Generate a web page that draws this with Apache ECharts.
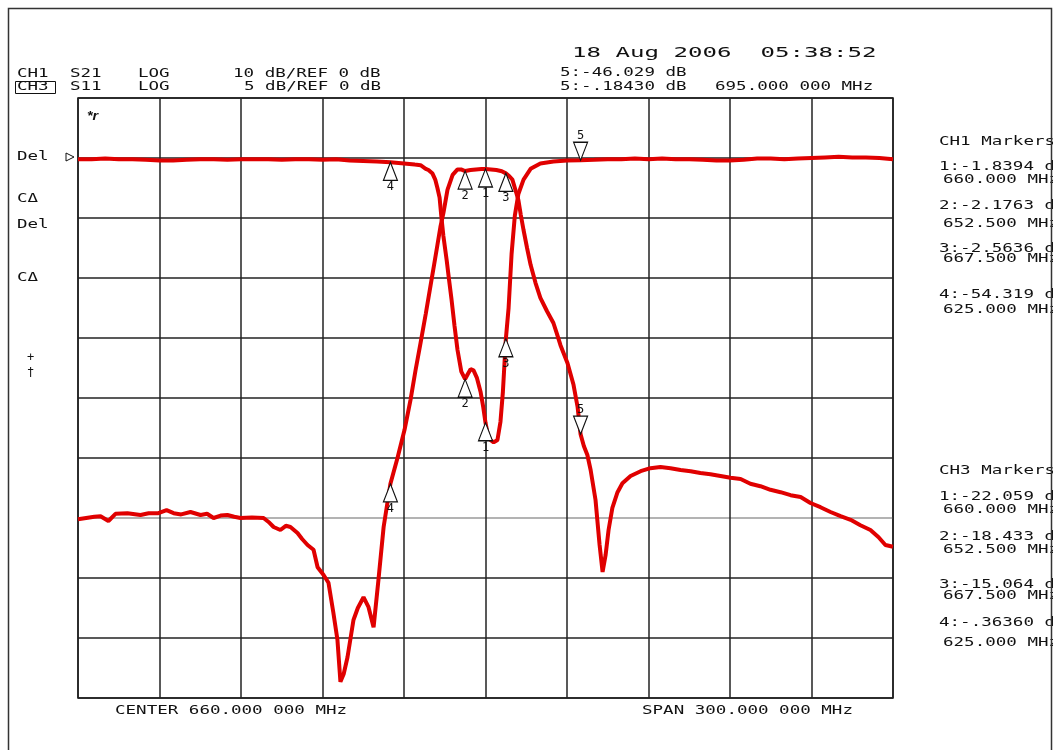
<!DOCTYPE html>
<html><head><meta charset="utf-8">
<script src="https://cdn.jsdelivr.net/npm/echarts@6/dist/echarts.min.js"></script>
<style>html,body{margin:0;padding:0;background:#fff}#c{width:1053px;height:750px}</style>
</head><body><div id="c"></div><script>
// ---- data ----
const s21Freq=[510,513,516,518.3,521.2,523.8,528.2,533,536,539.6,542.6,545.2,548,551.4,555.1,557.5,559.9,562.5,565,567.5,569.8,574,578.3,580.5,582,584.5,586.5,588.2,590.8,592.5,594.5,596.7,598.2,600.4,602.2,604,605.5,606.6,607.8,609.2,611.4,613,615.1,616.9,618.8,620.6,622.5,625,627.6,630.2,632.4,634.2,636.1,638,639.8,641,642.3,643.4,644.5,646,647.9,649.7,651,652.5,654.5,656.5,658.5,660,662,664,666,667.5,668.7,669.9,671,672.1,673,674,675.3,676.6,678.4,680.2,682.6,685,686.3,687.6,688.9,690.2,691.3,692.4,693.9,695,696.2,697.5,698.7,700.5,702,703.1,704.2,705.3,706.7,708.6,710.4,713.4,717.1,720.7,724.4,728.1,731.8,735.5,739.1,742.8,746.5,750.2,753.9,757.5,761.2,764.9,768.6,772.3,776,779.6,783.3,787,790.7,794.4,798,801.7,804.7,807.2,810];
const s21Db=[-60.2,-60.0,-59.8,-59.7,-60.5,-59.3,-59.2,-59.5,-59.2,-59.2,-58.7,-59.2,-59.4,-59.0,-59.5,-59.3,-60.0,-59.6,-59.5,-59.8,-60.0,-59.9,-60.0,-60.8,-61.5,-62.0,-61.3,-61.5,-62.5,-63.5,-64.5,-65.3,-68.2,-69.5,-70.8,-75.8,-80.3,-87.3,-86,-83.2,-77,-75,-73.2,-74.8,-78.2,-70.3,-61.5,-54.3,-50,-45.3,-40.3,-35.5,-30.8,-26,-21.2,-18,-14.5,-11.5,-9.2,-5.3,-2.8,-1.9,-1.9,-2.18,-2.0,-1.9,-1.85,-1.84,-1.9,-2.0,-2.2,-2.56,-3.0,-3.6,-5.3,-7.0,-9.5,-12,-15,-17.8,-20.8,-23.3,-25.5,-27.5,-29.3,-31.2,-32.7,-34.2,-36,-37.8,-41.5,-46.03,-48,-49.5,-52,-57,-64.5,-69,-66.2,-62,-58.3,-55.7,-54.2,-53,-52.2,-51.7,-51.5,-51.7,-52,-52.2,-52.5,-52.7,-53,-53.3,-53.5,-54.3,-54.7,-55.3,-55.7,-56.2,-56.5,-57.5,-58.2,-59,-59.7,-60.3,-61.2,-62,-63.2,-64.5,-64.8];
const s11Freq=[510,515,520,525,530,535,540,545,550,555,560,565,570,575,580,585,590,595,600,605,610,615,620,625,630,634,636.1,638,639,640.5,641.5,642.3,643.1,643.8,644.5,645.7,646.5,647.5,648.6,649.7,651.1,652.5,653.5,654.5,655.6,656.8,658.2,659.2,660,660.8,661.8,663,664.4,665.5,666.4,667.5,668.5,669.6,670.8,672.1,674,676.6,680.2,685,690,695,700,705,710,715,720,725,730,735,740,745,750,755,760,765,770,775,780,785,790,795,800,805,810];
const s11Db=[-0.1,-0.1,-0.05,-0.1,-0.1,-0.15,-0.2,-0.2,-0.15,-0.1,-0.1,-0.15,-0.1,-0.1,-0.1,-0.15,-0.1,-0.1,-0.15,-0.1,-0.2,-0.25,-0.3,-0.36,-0.45,-0.55,-0.6,-0.9,-1.0,-1.3,-1.8,-2.5,-3.3,-5,-6.5,-8.5,-10,-11.8,-14,-16,-17.8,-18.43,-18.0,-17.6,-17.7,-18.3,-19.5,-20.8,-22.06,-23.0,-23.5,-23.7,-23.5,-22,-19.5,-15.06,-12.5,-8,-4.8,-3,-1.8,-0.9,-0.45,-0.3,-0.2,-0.1843,-0.15,-0.1,-0.1,-0.05,-0.1,-0.05,-0.1,-0.1,-0.15,-0.2,-0.2,-0.15,-0.05,-0.05,-0.1,-0.05,0.0,0.05,0.1,0.05,0.05,0.0,-0.1];
const markerIds=['1','2','3','4','5'];
const markerFreq=[660,652.5,667.5,625,695];
const ch1MarkerDb=[-1.8394,-2.1763,-2.5636,-54.319,-46.029];
const ch3MarkerDb=[-22.059,-18.433,-15.064,-0.3636,-0.1843];
const markerDown=[false,false,false,false,true];
const xMin=510,xMax=810,xStep=30;
const ch1Min=-90,ch1Max=10,ch1Step=10;
const ch3Min=-45,ch3Max=5,ch3Step=5;

const RED='#e00000';
function pairs(f,d){return f.map((v,i)=>[v,d[i]]);}
function markers(db){
  return markerFreq.map((f,i)=>{
    const down=markerDown[i];
    return {value:[f,db[i]],symbolRotate:down?180:0,symbolOffset:[0,down?-9:9],
      label:{show:true,formatter:markerIds[i],position:down?'top':'bottom',distance:down?0:0,
        color:'#111',fontSize:12,fontFamily:'DejaVu Sans Mono'}};
  });
}
function T(x,y,s,size,sx,extra){
  const st=Object.assign({text:s,font:size+'px "DejaVu Sans Mono"',fill:'#111',
    textAlign:'left',align:'left',textVerticalAlign:'middle',verticalAlign:'middle'},extra||{});
  return {type:'text',x:x,y:y,scaleX:sx,style:st,z:100};
}
const F=12,SX=1.46;
const texts=[
  T(572,53,'18 Aug 2006  05:38:52',14,1.72),
  T(17,74,'CH1',F,SX),T(70,74,'S21',F,SX),T(138,74,'LOG',F,SX),T(233,74,'10 dB/REF 0 dB',F,SX),
  T(17,87,'CH3',F,SX),T(70,87,'S11',F,SX),T(138,87,'LOG',F,SX),T(244,87,'5 dB/REF 0 dB',F,SX),
  T(560,73,'5:-46.029 dB',F,SX),T(560,87,'5:-.18430 dB',F,SX),T(715,87,'695.000 000 MHz',F,SX),
  T(17,157,'Del',F,SX),T(17,199,'C\u0394',F,SX),T(17,225,'Del',F,SX),T(17,278,'C\u0394',F,SX),
  T(27,358,'+',F,1),T(27,373,'\u2020',F,1),
  T(87,117,'*r',10,1.2,{fontStyle:'italic',fontWeight:'bold'}),
  T(939,142,'CH1 Markers',F,SX),
  T(939,167,'1:-1.8394 dB',F,SX),T(943,180,'660.000 MHz',F,SX),
  T(939,206,'2:-2.1763 dB',F,SX),T(943,224,'652.500 MHz',F,SX),
  T(939,249,'3:-2.5636 dB',F,SX),T(943,259,'667.500 MHz',F,SX),
  T(939,295,'4:-54.319 dB',F,SX),T(943,310,'625.000 MHz',F,SX),
  T(939,471,'CH3 Markers',F,SX),
  T(939,497,'1:-22.059 dB',F,SX),T(943,510,'660.000 MHz',F,SX),
  T(939,537,'2:-18.433 dB',F,SX),T(943,550,'652.500 MHz',F,SX),
  T(939,585,'3:-15.064 dB',F,SX),T(943,596,'667.500 MHz',F,SX),
  T(939,623,'4:-.36360 dB',F,SX),T(943,643,'625.000 MHz',F,SX),
  T(115,711,'CENTER 660.000 000 MHz',F,SX),T(642,711,'SPAN 300.000 000 MHz',F,SX),
  {type:'rect',shape:{x:15.5,y:81.5,width:40,height:12},style:{fill:'none',stroke:'#111',lineWidth:1},z:100},
  {type:'polygon',shape:{points:[[66,153],[66,161],[74,157]]},style:{fill:'#fff',stroke:'#111',lineWidth:1},z:100},
  {type:'rect',shape:{x:8.5,y:8.5,width:1043,height:760},style:{fill:'none',stroke:'#333',lineWidth:1.5},z:100}
];
const yLineColors=[];
for(let v=ch1Min;v<=ch1Max;v+=ch1Step){yLineColors.push(v===-60?'#9a9a9a':'#222');}

const chart=echarts.init(document.getElementById('c'),null,{renderer:'canvas'});
chart.setOption({
  animation:false,
  backgroundColor:'#fff',
  grid:{left:78,right:160,top:98,bottom:52,show:true,borderColor:'#111',borderWidth:1.5},
  xAxis:{type:'value',min:xMin,max:xMax,interval:xStep,axisLabel:{show:false},axisTick:{show:false},
    axisLine:{show:false},splitLine:{show:true,lineStyle:{color:'#222',width:1.5}}},
  yAxis:[
    {type:'value',min:ch1Min,max:ch1Max,interval:ch1Step,axisLabel:{show:false},axisTick:{show:false},
      axisLine:{show:false},splitLine:{show:true,lineStyle:{color:yLineColors,width:1.5}}},
    {type:'value',min:ch3Min,max:ch3Max,interval:ch3Step,show:false,splitLine:{show:false}}
  ],
  series:[
    {type:'line',name:'S11',yAxisIndex:1,data:pairs(s11Freq,s11Db),symbol:'none',
      lineStyle:{color:RED,width:4},z:3},
    {type:'line',name:'S21',yAxisIndex:0,data:pairs(s21Freq,s21Db),symbol:'none',
      lineStyle:{color:RED,width:4},z:3},
    {type:'scatter',yAxisIndex:0,symbol:'triangle',symbolSize:[14,18],data:markers(ch1MarkerDb),
      itemStyle:{color:'#fff',borderColor:'#111',borderWidth:1.2,opacity:1},z:5,clip:false},
    {type:'scatter',yAxisIndex:1,symbol:'triangle',symbolSize:[14,18],data:markers(ch3MarkerDb),
      itemStyle:{color:'#fff',borderColor:'#111',borderWidth:1.2,opacity:1},z:5,clip:false}
  ],
  graphic:texts
});
</script></body></html>
